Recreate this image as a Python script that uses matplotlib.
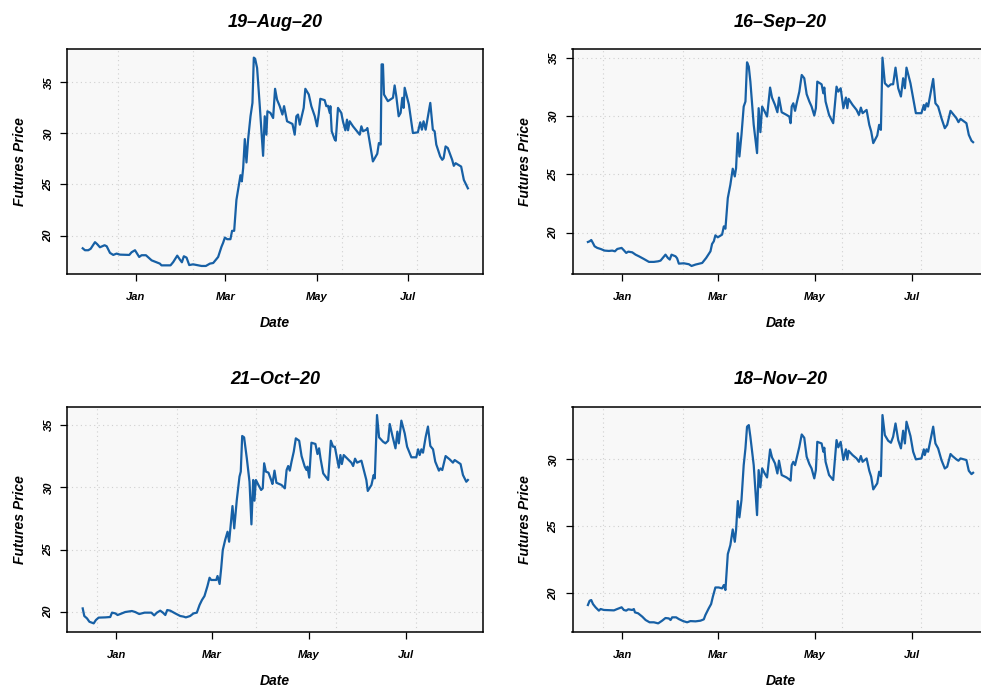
import numpy as np
import matplotlib
matplotlib.use("Agg")
import matplotlib.pyplot as plt
import matplotlib.dates as mdates
from matplotlib.ticker import MultipleLocator

plt.rcParams['font.family'] = ['Liberation Sans', 'DejaVu Sans']
plt.rcParams['font.style'] = 'italic'
plt.rcParams['font.weight'] = 'bold'
plt.rcParams['axes.titleweight'] = 'bold'
plt.rcParams['axes.labelweight'] = 'bold'

# contract names (panel titles)
contracts = ["19–Aug–20", "16–Sep–20", "21–Oct–20", "18–Nov–20"]

# trading days, counted in days from 1 Jan 2020, and settlement prices
aug_days = [-35.3, -33.8, -31.6, -30, -27.1, -25.6, -23.8, -20.7, -19.3, -17.1, -14.9, -12.7, -10.4,
            -4.2, -2.7, -0.4, 2.4, 4, 6.9, 10.7, 16.2, 17.3, 23.3, 25.1, 27.8, 29.6, 30.9, 32.2, 34,
            35.8, 38.4, 40.7, 44, 46.9, 49.6, 51.8, 55.1, 57.3, 58.4, 59.6, 61.1, 63.3, 64.4, 65.8,
            67.3, 69.1, 70, 70.9, 71.8, 72.9, 74, 75.1, 76.7, 78, 78.9, 79.8, 81.1, 82.9, 85.1, 86.2,
            87.3, 88, 90, 91.8, 93.1, 94.4, 96.2, 98, 99.1, 101.1, 104.7, 106.2, 107.3, 108.4, 109.6,
            112.2, 113.3, 115.6, 117.3, 119.6, 121.1, 122.2, 123.3, 126.2, 127.3, 128.4, 129.6, 130,
            130.9, 132.9, 133.6, 135.1, 137.3, 138.4, 140, 141.1, 141.8, 142.9, 145.1, 148.4, 149.6,
            150.7, 151.8, 154, 154.7, 156.7, 158.4, 161.3, 162.4, 163.6, 164.2, 165.1, 165.8, 168.4,
            171.8, 172.9, 174, 175.6, 176.9, 178, 178.9, 179.6, 182.4, 185.1, 188.4, 190, 191.1, 192.2,
            193.6, 196.7, 198.4, 199.6, 200.7, 203.3, 204.7, 205.6, 206.9, 208.4, 211.3, 212.4, 213.6,
            217.3, 219.1, 221.8]
aug_price = [18.75, 18.56, 18.56, 18.7, 19.35, 19.15, 18.85, 19.05, 18.95, 18.3, 18.1, 18.23, 18.13,
             18.1, 18.36, 18.56, 17.9, 18.07, 18.07, 17.57, 17.25, 17.08, 17.08, 17.4, 18.03, 17.64,
             17.38, 17.97, 17.84, 17.11, 17.18, 17.11, 17.02, 17.02, 17.25, 17.31, 17.9, 18.89, 19.28,
             19.8, 19.64, 19.64, 20.46, 20.46, 23.48, 25.1, 25.9, 25.3, 26.6, 29.44, 27.15, 29.4, 31.67,
             32.98, 37.41, 37.3, 36.4, 32.66, 27.8, 31.67, 29.87, 32.16, 32.0, 31.5, 34.36, 33.3, 32.66,
             31.84, 32.66, 31.18, 30.92, 29.87, 31.67, 31.84, 30.85, 32.49, 34.36, 33.8, 32.66, 31.67,
             30.69, 31.84, 33.38, 33.25, 32.66, 32.7, 32.0, 32.66, 30.2, 29.4, 29.28, 32.49, 32.0, 31.18,
             30.3, 31.34, 30.3, 31.18, 30.69, 30.1, 29.87, 30.69, 30.2, 30.36, 30.52, 28.72, 27.25, 28.0,
             29.05, 28.9, 36.75, 36.75, 33.8, 33.15, 33.48, 34.69, 33.64, 31.67, 32.0, 33.48, 32.49,
             34.46, 32.82, 30.03, 30.1, 31.08, 30.36, 31.18, 30.36, 32.98, 30.36, 30.2, 28.9, 27.74,
             27.41, 27.57, 28.72, 28.56, 27.41, 26.82, 27.08, 26.75, 25.44, 24.62]

sep_days = [-21.6, -20.5, -19.5, -18.4, -17.4, -15.7, -13.6, -11.1, -8.4, -6.3, -4.6, -3.1, -0.4, 1,
            2.5, 3.8, 6.3, 8.4, 10.5, 13.6, 16.8, 19.9, 22.6, 24.1, 25.5, 27.2, 28.7, 29.9, 31, 33.5,
            34.5, 35.6, 38.7, 41.9, 43.6, 46.1, 50.3, 52.8, 55.5, 56.5, 57.6, 58.6, 60.1, 62.8, 63.9,
            64.9, 66.4, 68, 69.5, 70.8, 71.6, 72.7, 73.7, 75, 76.4, 77.5, 78.5, 79.6, 80.6, 82.7, 84.8,
            85.8, 86.9, 88, 89.6, 91.1, 93, 94.2, 96.1, 97.6, 98.6, 100.3, 103.4, 105.1, 105.9, 106.6,
            107.6, 108.7, 109.7, 111.4, 112.9, 114.5, 116, 117.7, 119.1, 120.8, 121.8, 122.7, 125.4,
            126.5, 127.1, 127.9, 130.1, 132.7, 134.8, 135.9, 137.4, 139.1, 140.7, 141.6, 142.4, 144.9,
            147.4, 148.9, 150.1, 151.2, 153.7, 155.4, 156.6, 157.9, 160.4, 161.6, 162.7, 163.7, 165.2,
            167.3, 169, 170.4, 171.9, 173.6, 175.3, 176.7, 177.8, 178.8, 181.3, 183, 184.7, 188.2,
            189.7, 190.3, 191.4, 192.4, 195.6, 197, 198.7, 200.8, 202.9, 204.4, 206.5, 207.7, 210.2,
            211.5, 212.8, 216.5, 218, 219.7, 220.7]
sep_price = [19.2, 19.26, 19.37, 19.1, 18.83, 18.69, 18.6, 18.46, 18.43, 18.46, 18.4, 18.6, 18.69, 18.49,
             18.26, 18.37, 18.31, 18.11, 17.97, 17.74, 17.49, 17.49, 17.54, 17.6, 17.83, 18.11, 17.83,
             17.69, 18.11, 17.97, 17.8, 17.34, 17.37, 17.29, 17.14, 17.26, 17.4, 17.83, 18.4, 19.03,
             19.26, 19.77, 19.6, 19.83, 20.54, 20.34, 22.97, 24.11, 25.49, 24.83, 25.54, 28.54, 26.54,
             28.4, 30.83, 31.26, 34.63, 34.26, 32.97, 29.26, 26.83, 30.69, 28.63, 30.83, 30.4, 29.97,
             32.46, 31.6, 30.97, 30.34, 31.6, 30.34, 30.11, 29.97, 29.4, 30.83, 31.11, 30.46, 31.11,
             32.11, 33.54, 33.26, 31.89, 31.26, 30.83, 30.06, 30.69, 32.97, 32.74, 31.97, 32.46, 31.26,
             30.11, 29.4, 32.54, 32.11, 32.4, 30.69, 31.6, 30.69, 31.49, 30.97, 30.54, 30.11, 30.74,
             30.26, 30.54, 29.26, 28.69, 27.69, 28.34, 29.26, 28.83, 35.03, 32.83, 32.54, 32.74, 32.74,
             34.17, 32.4, 31.69, 33.26, 32.4, 34.17, 32.83, 31.54, 30.26, 30.26, 30.97, 30.54, 31.11,
             30.83, 33.2, 31.11, 30.83, 29.83, 28.97, 29.26, 30.46, 30.26, 29.83, 29.49, 29.77, 29.4,
             28.4, 27.89, 27.77]

oct_days = [-21.1, -20.1, -18.4, -16.9, -15.3, -14.2, -12.8, -11.1, -6.9, -3.8, -2.7, -0.6, 0.8, 2.5,
            5.6, 9.8, 11.9, 14.4, 17.8, 22, 23.8, 25.5, 27.6, 29.3, 30.8, 32, 33.9, 37, 40.2, 42.3,
            43.7, 46.4, 48.5, 50.6, 52.3, 53.8, 55.4, 56.5, 57.3, 58.6, 59.6, 62.8, 63.6, 64.9, 65.9,
            66.9, 68.4, 69.9, 70.9, 72, 73, 74.1, 75.7, 77.4, 78.2, 79.1, 80.3, 82, 83.7, 84.9, 86,
            86.8, 87.7, 89.3, 91, 92, 92.9, 94, 95.6, 97.3, 98.1, 99.4, 100.6, 103.8, 105.9, 107, 108,
            109, 110.1, 111.5, 112.8, 114.9, 116.4, 118.4, 119.5, 120.1, 121.2, 122.6, 125.1, 126.4,
            127.4, 128.3, 130, 133.1, 134.8, 136.2, 137.3, 138.3, 139.8, 140.8, 141.7, 142.9, 145.6,
            147.7, 148.8, 150, 151.3, 154, 156.1, 157.1, 158, 160.3, 161.7, 162.4, 163.8, 165.1, 167.6,
            169.1, 170.8, 171.8, 173.5, 175.4, 176.6, 177.5, 179.1, 181.2, 182.7, 185.4, 188.5, 189.6,
            190.6, 191.7, 192.7, 194.4, 195.8, 197.3, 199, 200.4, 202.7, 203.6, 204.8, 206.9, 209.4,
            211.5, 212.6, 216.3, 217.8, 219.9, 220.9]
oct_price = [20.29, 19.68, 19.49, 19.22, 19.14, 19.09, 19.36, 19.55, 19.57, 19.6, 19.95, 19.89, 19.76,
             19.84, 20.0, 20.08, 20.0, 19.84, 19.95, 19.95, 19.73, 19.95, 20.11, 19.95, 19.76, 20.16,
             20.11, 19.89, 19.68, 19.63, 19.57, 19.68, 19.89, 19.95, 20.56, 20.96, 21.28, 21.76, 22.09,
             22.75, 22.57, 22.57, 22.89, 22.25, 23.5, 24.97, 25.78, 26.44, 25.64, 27.11, 28.5, 26.71,
             28.98, 30.86, 31.26, 34.12, 34.01, 32.33, 30.45, 27.03, 30.59, 28.93, 30.59, 30.19, 29.79,
             29.92, 31.93, 31.26, 31.18, 30.59, 30.27, 31.34, 30.37, 30.19, 29.92, 31.39, 31.71, 31.34,
             32.06, 32.86, 33.93, 33.74, 32.51, 31.66, 31.39, 31.66, 30.78, 33.58, 33.48, 32.67, 33.13,
             32.33, 31.12, 30.59, 33.74, 33.26, 33.26, 32.59, 31.58, 32.59, 31.87, 32.59, 32.25, 31.98,
             31.71, 32.3, 31.98, 32.14, 31.07, 30.59, 29.71, 30.19, 30.99, 30.72, 35.8, 34.01, 33.66,
             33.53, 33.74, 35.08, 34.12, 33.13, 34.47, 33.53, 35.35, 34.33, 33.26, 32.41, 32.41, 33.05,
             32.59, 33.05, 32.78, 34.06, 34.87, 33.32, 33.05, 32.06, 31.34, 31.52, 31.39, 32.51, 32.25,
             31.98, 32.19, 31.87, 30.99, 30.45, 30.59]

nov_days = [-21.6, -20.5, -19.5, -18.4, -16.8, -14.7, -13.6, -11.5, -5.2, -3.6, -0.4, 1, 2.5, 3.8, 6.3,
            7.3, 8, 10, 12.6, 14.7, 17.2, 19.9, 22.6, 25.1, 27.2, 29.3, 30.4, 31.4, 33.9, 35.6, 38.3,
            40.8, 42.9, 46.1, 49.2, 51.3, 52.3, 54.4, 55.9, 57, 58.6, 60.7, 62.8, 63.9, 64.9, 66.4, 68,
            69.5, 70.8, 71.6, 72.7, 73.7, 75, 76.4, 77.5, 78.5, 79.6, 80.6, 82.7, 84.8, 85.8, 86.9, 88,
            89.6, 91.1, 93, 94.2, 96.1, 97.6, 98.6, 100.3, 103.4, 105.1, 105.9, 106.6, 107.6, 108.7,
            109.7, 111.4, 112.9, 114.5, 116, 117.7, 119.1, 120.8, 121.8, 122.7, 125.4, 126.5, 127.1,
            127.9, 130.1, 132.7, 134.8, 135.9, 137.4, 139.1, 140.7, 141.6, 142.4, 144.9, 147.4, 148.9,
            150.1, 151.2, 153.7, 155.4, 156.6, 157.9, 160.4, 161.6, 162.7, 163.7, 165.2, 167.3, 169,
            170.4, 171.9, 173.6, 175.3, 176.7, 177.8, 178.8, 181.3, 183, 184.7, 188.2, 189.7, 190.3,
            191.4, 192.4, 195.6, 197, 198.7, 200.8, 202.9, 204.4, 206.5, 207.7, 210.2, 211.5, 212.8,
            216.5, 218, 219.7, 220.7]
nov_price = [19.13, 19.45, 19.5, 19.2, 18.96, 18.71, 18.83, 18.76, 18.73, 18.81, 18.96, 18.76, 18.71,
             18.81, 18.76, 18.83, 18.58, 18.51, 18.26, 18.01, 17.84, 17.84, 17.76, 17.96, 18.16, 18.13,
             18.01, 18.21, 18.21, 18.08, 17.93, 17.84, 17.93, 17.91, 17.96, 18.06, 18.38, 18.88, 19.2,
             19.75, 20.44, 20.44, 20.37, 20.62, 20.25, 22.93, 23.6, 24.77, 23.85, 24.72, 26.89, 25.67,
             26.96, 29.57, 30.82, 32.44, 32.56, 31.69, 29.57, 25.84, 29.2, 27.91, 29.33, 28.95, 28.65,
             30.74, 30.15, 29.7, 28.95, 29.9, 28.83, 28.65, 28.5, 28.41, 29.57, 29.82, 29.57, 30.07,
             30.94, 31.86, 31.61, 30.2, 29.65, 29.32, 28.58, 29.2, 31.31, 31.19, 30.57, 30.87, 29.82,
             28.83, 28.46, 31.44, 30.9, 31.31, 29.95, 30.75, 30.0, 30.64, 30.32, 30.07, 29.82, 30.25,
             29.82, 30.07, 29.15, 28.7, 27.76, 28.21, 29.08, 28.75, 33.31, 31.81, 31.39, 31.24, 31.69,
             32.68, 31.44, 30.82, 32.14, 31.19, 32.81, 31.74, 30.57, 30.0, 30.07, 30.75, 30.32, 30.75,
             30.57, 32.44, 31.19, 30.82, 29.95, 29.32, 29.45, 30.4, 30.25, 30.0, 29.9, 30.07, 29.95,
             29.15, 28.9, 29.0]

all_days = [aug_days, sep_days, oct_days, nov_days]
all_price = [aug_price, sep_price, oct_price, nov_price]

line_col = "#1760a5"
grid_col = "#d0d0d0"
day0 = mdates.date2num(np.datetime64("2020-01-01"))

W, H = 981, 688
fig = plt.figure(figsize=(W / 100, H / 100), dpi=100, facecolor="white")

# axes boxes in pixels: left, top, right, bottom (right column runs past the page edge)
boxes = [(67.3, 49.3, 483.3, 274.3), (572.5, 49.3, 988.5, 274.3),
         (67.3, 406.7, 483.3, 631.7), (572.5, 406.7, 988.5, 631.7)]

for name, days, price, (l, t, r, b) in zip(contracts, all_days, all_price, boxes):
    ax = fig.add_axes([l / W, (H - b) / H, (r - l) / W, (b - t) / H])
    ax.set_facecolor("#f8f8f8")
    x = day0 + np.array(days)
    ax.plot(x, price, color=line_col, lw=1.6, zorder=3)
    ax.margins(x=0.04, y=0.04)

    ax.xaxis.set_major_locator(mdates.MonthLocator(bymonth=[1, 3, 5, 7]))
    ax.xaxis.set_major_formatter(mdates.DateFormatter("%b"))
    ax.xaxis.set_minor_locator(MultipleLocator(50))
    ax.yaxis.set_major_locator(MultipleLocator(5))

    ax.grid(which="minor", axis="x", color=grid_col, linestyle=(0, (1, 3)), lw=0.8)
    ax.grid(which="major", axis="y", color=grid_col, linestyle=(0, (1, 3)), lw=0.8)
    ax.set_axisbelow(True)

    ax.tick_params(which="minor", length=0)
    ax.tick_params(which="major", length=5, width=0.9, labelsize=8, pad=8)
    ax.tick_params(axis="y", labelrotation=90, pad=5)
    for lab in ax.get_yticklabels():
        lab.set_va("center")
    for s in ax.spines.values():
        s.set_linewidth(1.1)

    ax.set_title(name, fontsize=13, pad=16)
    ax.set_xlabel("Date", fontsize=10, labelpad=10)
    ax.set_ylabel("Futures Price", fontsize=10, labelpad=12)

fig.savefig("out.png", dpi=100, facecolor="white")
